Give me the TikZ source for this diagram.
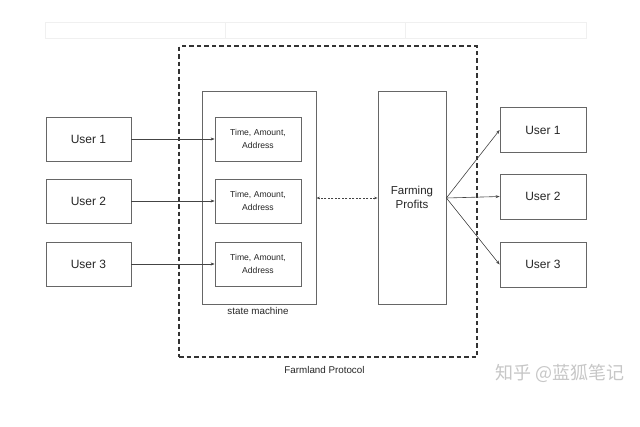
\documentclass[tikz,border=0pt]{standalone}
\usepackage{fontspec}
\setmainfont{Liberation Sans}
\newfontfamily\cjkfont{Noto Sans CJK SC}
\usetikzlibrary{arrows.meta}
\definecolor{boxline}{HTML}{666666}
\definecolor{arrline}{HTML}{444444}
\tikzset{
  userbox/.style={draw=boxline, line width=0.8pt, minimum width=85pt, minimum height=44pt, inner sep=0pt, font=\fontsize{12}{14}\selectfont, text=black!85},
  recbox/.style={draw=boxline, line width=0.8pt, minimum width=86pt, minimum height=44pt, inner sep=0pt, align=center, font=\fontsize{8.6}{12.5}\selectfont, text=black!85},
  tallbox/.style={draw=boxline, line width=0.8pt, minimum height=213pt, inner sep=0pt},
  arr/.style={draw=arrline, line width=0.6pt, -{Stealth[length=4pt,width=3pt]}},
  lbl/.style={inner sep=0pt, font=\fontsize{9.8}{12}\selectfont, text=black!85},
}
\begin{document}
\begin{tikzpicture}[x=1pt,y=-1pt]
\useasboundingbox[fill=white] (0,0) rectangle (640,426);
% faint header table
\draw[black!6, line width=0.6pt] (45,22) rectangle (586,38);
\draw[black!6, line width=0.6pt] (225,22) -- (225,38) (405,22) -- (405,38);
% outer dashed frame
\node[draw=black!80, line width=1.4pt, dash pattern=on 4.5pt off 3pt, minimum width=298pt, minimum height=311pt, inner sep=0pt] (frame) at (328,201.5) {};
\node[lbl] (frameLbl) at (324.5,370) {Farmland Protocol};
% state machine
\node[tallbox, minimum width=114pt] (sm) at (259,197.5) {};
\node[lbl] (smLbl) at (258,311) {state machine};
% farming profits
\node[tallbox, minimum width=68pt, align=center, font=\fontsize{11.5}{14}\selectfont, text=black!85] (fp) at (412,197.5) {Farming\\Profits};
% record boxes
\node[recbox] (r1) at (258,139) {Time, Amount,\\Address};
\node[recbox] (r2) at (258,201) {Time, Amount,\\Address};
\node[recbox] (r3) at (258,264) {Time, Amount,\\Address};
% left users
\node[userbox] (l1) at (88.5,139) {User 1};
\node[userbox] (l2) at (88.5,201) {User 2};
\node[userbox] (l3) at (88.5,264) {User 3};
% right users
\node[userbox, minimum width=86pt, minimum height=45pt] (u1) at (543,130) {User 1};
\node[userbox, minimum width=86pt, minimum height=45pt] (u2) at (543,196.5) {User 2};
\node[userbox, minimum width=86pt, minimum height=45pt] (u3) at (543,264.5) {User 3};
% connectors
\draw[arr] (l1) -- (r1);
\draw[arr] (l2) -- (r2);
\draw[arr] (l3) -- (r3);
\draw[draw=arrline, line width=0.6pt, dash pattern=on 2pt off 1.5pt, {Stealth[length=3.5pt,width=2.5pt]}-{Stealth[length=3.5pt,width=2.5pt]}] (fp.west |- 0,198) -- (sm.east |- 0,198);
\draw[arr] (fp.east |- 0,198) -- (u1.west);
\draw[arr] (fp.east |- 0,198) -- (u2.west);
\draw[arr] (fp.east |- 0,198) -- (u3.west);
% watermark
\node[inner sep=0pt, font=\cjkfont\fontsize{18}{20}\selectfont, text=black!22] (wm) at (560,373) {知乎 @蓝狐笔记};
\end{tikzpicture}
\end{document}
